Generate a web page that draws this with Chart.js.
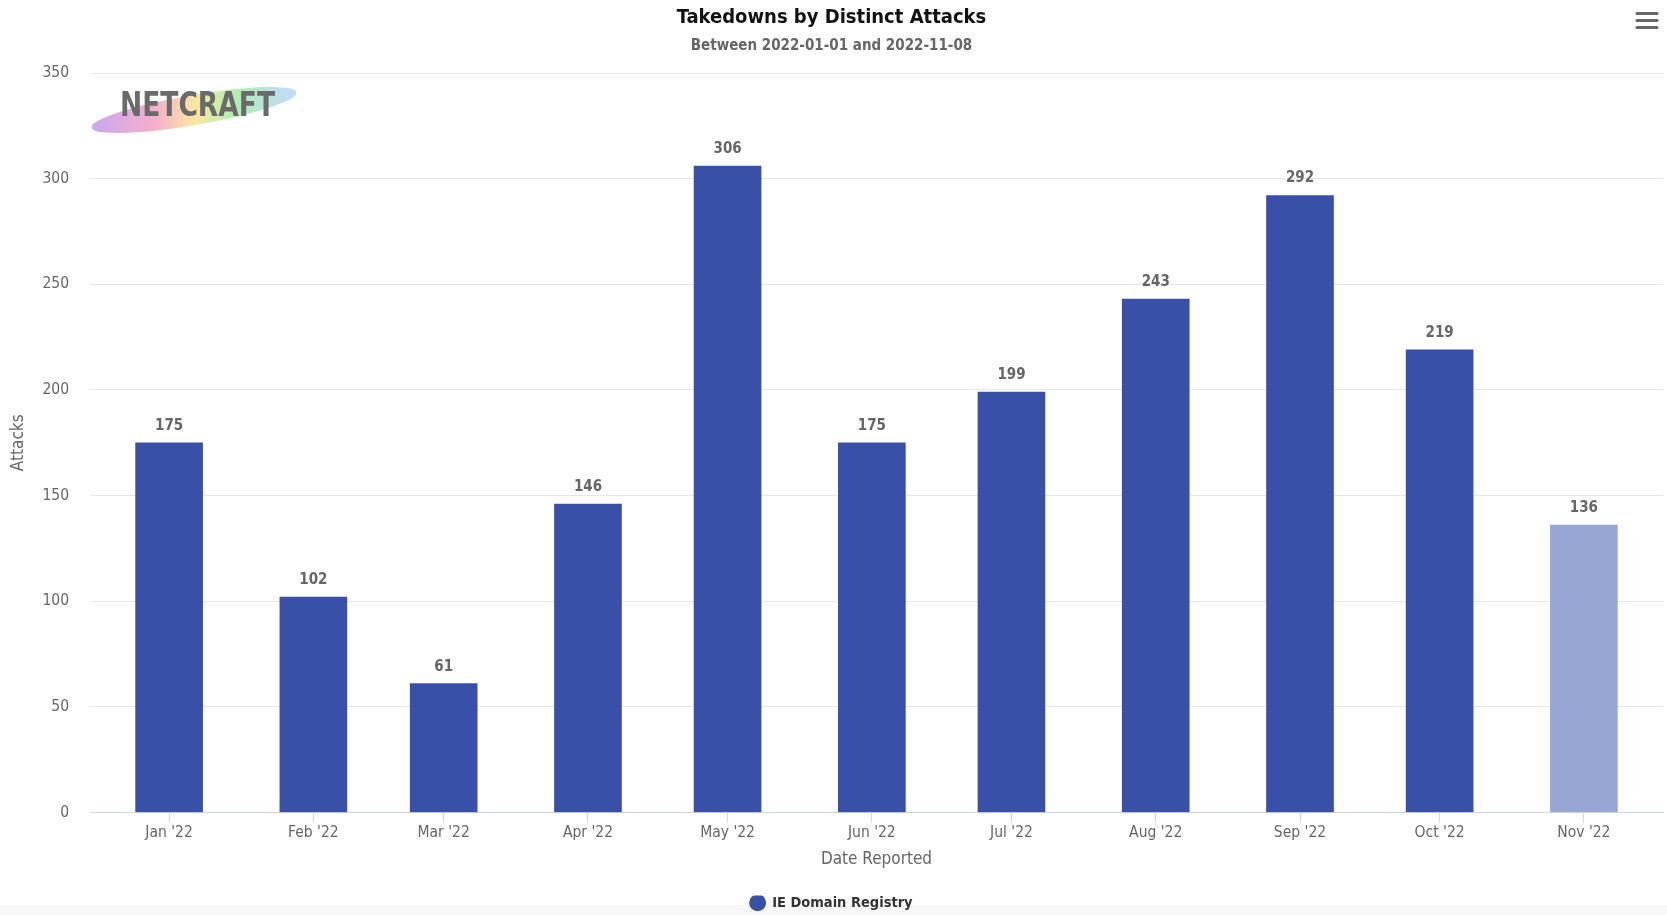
<!DOCTYPE html>
<html lang="en">
<head>
    <meta charset="UTF-8">
    <title>Takedowns by Distinct Attacks</title>
    <script src="https://cdn.jsdelivr.net/npm/chart.js"></script>
    <style>
        body { margin: 0; background: #fff; }
        .chart-box { position: relative; width: 1667px; height: 915px; }
    </style>
</head>
<body>
<div class="chart-box">
    <canvas id="takedownChart"></canvas>
</div>
<script>
    // day of year (2022) for the first of each month, bars sit on these
    const monthDays = [0, 31, 59, 90, 120, 151, 181, 212, 243, 273, 304];
    const monthLabels = ["Jan '22", "Feb '22", "Mar '22", "Apr '22", "May '22", "Jun '22",
                         "Jul '22", "Aug '22", "Sep '22", "Oct '22", "Nov '22"];
    const attacks = [175, 102, 61, 146, 306, 175, 199, 243, 292, 219, 136];
    const yTicks = [0, 50, 100, 150, 200, 250, 300, 350];

    const fontStack = "'DejaVu Sans Condensed', 'Noto Sans', sans-serif";
    const barColor = '#3850a7';
    const partialColor = '#98a6d3'; // current month, not complete yet

    // value labels above the columns + logo + menu icon
    const decorations = {
        id: 'decorations',
        beforeDraw(chart) {
            const ctx = chart.ctx;
            ctx.save();
            ctx.fillStyle = '#f8f8f8';
            ctx.fillRect(0, 905, chart.width, chart.height - 905);
            ctx.restore();
        },
        afterDatasetsDraw(chart) {
            const ctx = chart.ctx;
            const meta = chart.getDatasetMeta(0);
            ctx.save();
            ctx.font = 'bold 15px ' + fontStack;
            ctx.fillStyle = '#666';
            ctx.textAlign = 'center';
            ctx.textBaseline = 'middle';
            meta.data.forEach((bar, i) => {
                ctx.fillText(attacks[i], bar.x, bar.y - 17);
            });
            ctx.restore();
        },
        afterDraw(chart) {
            const ctx = chart.ctx;
            ctx.save();
            // brush stroke behind the logo text
            const grad = ctx.createLinearGradient(93, 0, 297, 0);
            grad.addColorStop(0, 'rgba(165,110,225,0.6)');
            grad.addColorStop(0.3, 'rgba(240,120,170,0.6)');
            grad.addColorStop(0.5, 'rgba(250,215,100,0.6)');
            grad.addColorStop(0.7, 'rgba(120,230,120,0.6)');
            grad.addColorStop(1, 'rgba(140,180,250,0.5)');
            ctx.fillStyle = grad;
            ctx.beginPath();
            ctx.ellipse(194, 110, 104, 15, -0.17, 0, Math.PI * 2);
            ctx.fill();
            ctx.font = 'bold 34px ' + fontStack;
            ctx.fillStyle = '#6a6a6a';
            ctx.textBaseline = 'alphabetic';
            ctx.fillText('NETCRAFT', 120, 116, 155);

            // hamburger menu
            ctx.strokeStyle = '#666';
            ctx.lineWidth = 3;
            ctx.lineCap = 'round';
            [13.5, 20.5, 27.5].forEach(y => {
                ctx.beginPath();
                ctx.moveTo(1637, y);
                ctx.lineTo(1657, y);
                ctx.stroke();
            });
            ctx.restore();
        }
    };

    const ctx = document.getElementById('takedownChart').getContext('2d');
    new Chart(ctx, {
        type: 'bar',
        data: {
            datasets: [{
                label: 'IE Domain Registry',
                data: attacks.map((v, i) => ({ x: monthDays[i], y: v })),
                backgroundColor: attacks.map((v, i) => i === attacks.length - 1 ? partialColor : barColor),
                borderWidth: 0,
                barThickness: 67
            }]
        },
        options: {
            responsive: true,
            maintainAspectRatio: false,
            animation: false,
            layout: { padding: { left: 0, right: 4, top: 0, bottom: -5 } },
            scales: {
                x: {
                    type: 'linear',
                    min: -17,
                    max: 321,
                    bounds: 'data',
                    offset: false,
                    grid: {
                        offset: false,
                        drawOnChartArea: false,
                        drawTicks: true,
                        tickLength: 10,
                        color: '#ccd6eb'
                    },
                    border: { color: '#ccd6eb', width: 1 },
                    afterBuildTicks: scale => {
                        scale.ticks = monthDays.map(d => ({ value: d }));
                    },
                    afterFit: scale => { scale.height = 83; },
                    ticks: {
                        autoSkip: false,
                        maxRotation: 0,
                        padding: 1,
                        color: '#666',
                        font: { family: fontStack, size: 15.5 },
                        callback: value => monthLabels[monthDays.indexOf(value)]
                    },
                    title: {
                        display: true,
                        text: 'Date Reported',
                        color: '#666',
                        font: { family: fontStack, size: 17 },
                        padding: { top: 0, bottom: 26 }
                    }
                },
                y: {
                    min: 0,
                    max: 350,
                    afterBuildTicks: scale => {
                        scale.ticks = yTicks.map(v => ({ value: v }));
                    },
                    afterFit: scale => { scale.width = 90; },
                    grid: { color: '#e6e6e6', drawTicks: false },
                    border: { display: false },
                    ticks: {
                        padding: 21,
                        color: '#666',
                        font: { family: fontStack, size: 15.5 }
                    },
                    title: {
                        display: true,
                        text: 'Attacks',
                        color: '#666',
                        font: { family: fontStack, size: 17 },
                        padding: { top: 8, bottom: 0 }
                    }
                }
            },
            plugins: {
                title: {
                    display: true,
                    text: 'Takedowns by Distinct Attacks',
                    color: '#111',
                    font: { family: fontStack, size: 20, weight: 'bold' },
                    padding: { top: 6, bottom: 5 }
                },
                subtitle: {
                    display: true,
                    text: 'Between 2022-01-01 and 2022-11-08',
                    color: '#666',
                    font: { family: fontStack, size: 15, weight: 'bold' },
                    padding: { top: 2, bottom: 18 }
                },
                legend: {
                    position: 'bottom',
                    labels: {
                        usePointStyle: true,
                        pointStyle: 'circle',
                        boxHeight: 12,
                        padding: 0,
                        color: '#333',
                        font: { family: fontStack, size: 14.5, weight: 'bold' }
                    }
                },
                tooltip: { enabled: false }
            }
        },
        plugins: [decorations]
    });
</script>
</body>
</html>
